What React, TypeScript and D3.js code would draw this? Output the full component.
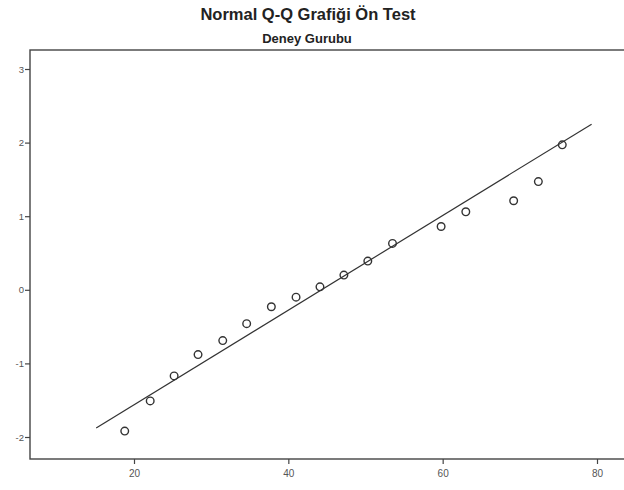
import { useRef, useEffect } from "react";
import * as d3 from "d3";

// observed scores (Deney Gurubu, ön test) and their expected normal values
const observed = [
  18.8, 22.1, 25.2, 28.3, 31.5, 34.6, 37.8, 41.0, 44.1, 47.2, 50.3, 53.5, 59.8, 63.0, 69.2, 72.4, 75.5,
];
const expectedNormal = [
  -1.92, -1.51, -1.17, -0.88, -0.69, -0.46, -0.23, -0.1, 0.04, 0.2, 0.39, 0.63, 0.86, 1.06, 1.21, 1.47, 1.97,
];
const xTicks = [20, 40, 60, 80];
const yTicks = [-2, -1, 0, 1, 2, 3];
const lineMean = 44.3;
const lineSd = 15.55;
const lineRange = [15.1, 79.3];

const title = "Normal Q-Q Grafiği Ön Test";
const subtitle = "Deney Gurubu";

const App = () => {
  const chartRef = useRef(null);

  useEffect(() => {
    const el = chartRef.current;
    const width = 624;
    const height = 490;
    const frame = { left: 30, top: 50, right: 640, bottom: 459 };

    const svg = d3
      .select(el)
      .append("svg")
      .attr("width", width)
      .attr("height", height)
      .style("position", "absolute")
      .style("left", 0)
      .style("top", 0)
      .style("background", "#fff")
      .style("font-family", "Arial, 'Liberation Sans', sans-serif");

    const x = d3.scaleLinear().domain([20, 80]).range([134, 597]);
    const y = d3.scaleLinear().domain([-2, 3]).range([437, 69]);

    svg
      .append("text")
      .attr("x", 308)
      .attr("y", 20)
      .attr("text-anchor", "middle")
      .attr("font-size", 16.5)
      .attr("font-weight", "bold")
      .attr("fill", "#222")
      .text(title);

    svg
      .append("text")
      .attr("x", 307)
      .attr("y", 43)
      .attr("text-anchor", "middle")
      .attr("font-size", 13)
      .attr("font-weight", "bold")
      .attr("fill", "#222")
      .text(subtitle);

    // plot frame
    svg
      .append("rect")
      .attr("x", frame.left)
      .attr("y", frame.top)
      .attr("width", frame.right - frame.left)
      .attr("height", frame.bottom - frame.top)
      .attr("fill", "none")
      .attr("stroke", "#444")
      .attr("stroke-width", 1.4);

    const yAxis = svg
      .append("g")
      .attr("transform", `translate(${frame.left},0)`)
      .call(d3.axisLeft(y).tickValues(yTicks).tickSize(5).tickFormat(d => String(d)));
    yAxis.select(".domain").remove();
    yAxis.selectAll("line").attr("stroke", "#444").attr("stroke-width", 1.2);
    yAxis
      .selectAll("text")
      .attr("font-size", 9.5)
      .attr("fill", "#555")
      .attr("font-family", "Arial, 'Liberation Sans', sans-serif")
      .attr("x", -6);

    const xAxis = svg
      .append("g")
      .attr("transform", `translate(0,${frame.bottom})`)
      .call(d3.axisBottom(x).tickValues(xTicks).tickSize(5).tickFormat(d => String(d)));
    xAxis.select(".domain").remove();
    xAxis.selectAll("line").attr("stroke", "#444").attr("stroke-width", 1.2);
    xAxis
      .selectAll("text")
      .attr("font-size", 10)
      .attr("fill", "#555")
      .attr("font-family", "Arial, 'Liberation Sans', sans-serif")
      .attr("y", 11);

    const lineData = lineRange.map(v => ({ x: v, y: (v - lineMean) / lineSd }));
    svg
      .append("path")
      .datum(lineData)
      .attr("fill", "none")
      .attr("stroke", "#333")
      .attr("stroke-width", 1.2)
      .attr(
        "d",
        d3
          .line<{ x: number; y: number }>()
          .x(d => x(d.x))
          .y(d => y(d.y))
      );

    svg
      .append("g")
      .selectAll("circle")
      .data(observed.map((v, i) => ({ x: v, y: expectedNormal[i] })))
      .enter()
      .append("circle")
      .attr("cx", d => x(d.x))
      .attr("cy", d => y(d.y))
      .attr("r", 3.8)
      .attr("fill", "none")
      .attr("stroke", "#333")
      .attr("stroke-width", 1.4);

    return () => {
      d3.select(el).selectAll("svg").remove();
    };
  }, []);

  return <div ref={chartRef}></div>;
};

export default App;
